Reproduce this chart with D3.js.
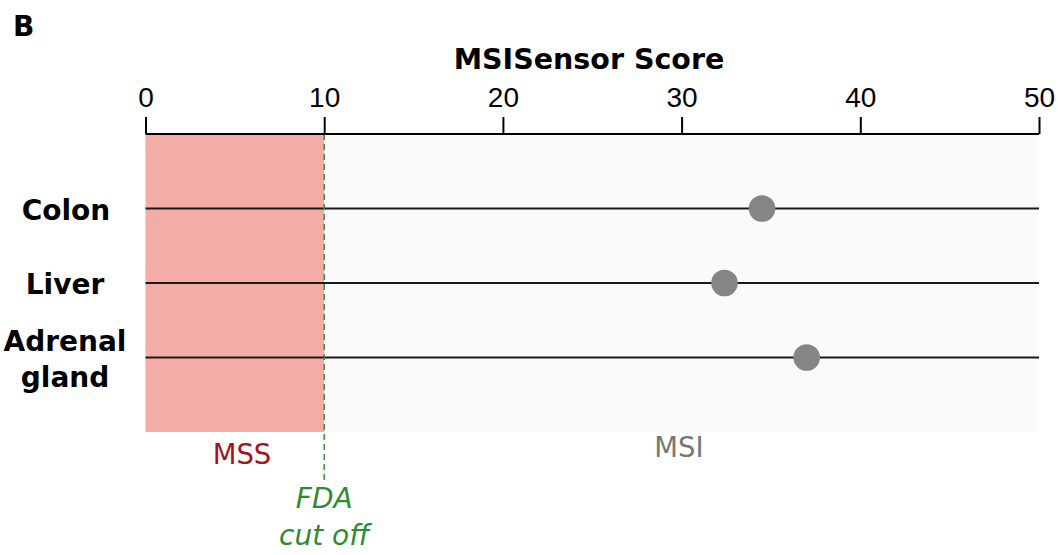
<!DOCTYPE html>
<html><head><meta charset="utf-8">
<script src="https://cdn.jsdelivr.net/npm/d3@7"></script>
<style>body{margin:0;background:#fff}svg{display:block}</style>
</head><body>
<script>
const categories = ["Colon", "Liver", "Adrenal gland"];
const scores = [34.5, 32.4, 37.0];
const tickValues = [0, 10, 20, 30, 40, 50];
const cutoff = 10;
const domainX = [0, 50];

const W = 1058, H = 555;
const svg = d3.select("body").append("svg").attr("width", W).attr("height", H);
const plotTop = 134, plotBottom = 432;
const x = d3.scaleLinear().domain(domainX).range([145.5, 1039]);
const y = d3.scalePoint().domain(categories).range([plotTop, plotBottom]).padding(1);

// background regions
svg.append("rect").attr("x", x(cutoff)).attr("y", plotTop).attr("width", x(domainX[1]) - x(cutoff)).attr("height", plotBottom - plotTop).attr("fill", "#fafafa");
svg.append("rect").attr("x", x(domainX[0])).attr("y", plotTop).attr("width", x(cutoff) - x(domainX[0])).attr("height", plotBottom - plotTop).attr("fill", "#f4aca6");

// row lines
svg.selectAll("line.row").data(categories).join("line")
  .attr("x1", x(domainX[0])).attr("x2", x(domainX[1]))
  .attr("y1", d => y(d)).attr("y2", d => y(d))
  .attr("stroke", "#1a1a1a").attr("stroke-width", 2);

// cutoff dashed line
svg.append("line").attr("x1", x(cutoff)).attr("x2", x(cutoff)).attr("y1", plotTop).attr("y2", 481)
  .attr("stroke", "#3a8f3a").attr("stroke-width", 1.5).attr("stroke-dasharray", "6,4");

// axis
const axis = d3.axisTop(x).tickValues(tickValues).tickSize(17).tickSizeOuter(0).tickPadding(10);
const g = svg.append("g").attr("transform", `translate(0,${plotTop})`).call(axis);
g.select(".domain").attr("stroke", "#000").attr("stroke-width", 2).attr("d", `M${x(domainX[0])},0H${x(domainX[1])}`);
g.selectAll(".tick line").attr("stroke", "#000").attr("stroke-width", 2);
g.selectAll(".tick text").attr("font-family", "Liberation Sans, Arial, sans-serif").attr("font-size", 28).attr("fill", "#000");

// points
svg.selectAll("circle").data(categories).join("circle")
  .attr("cx", (d, i) => x(scores[i])).attr("cy", d => y(d)).attr("r", 13.3)
  .attr("fill", "#858585");

// row labels
const lab = svg.append("g").attr("font-family", "DejaVu Sans, sans-serif").attr("font-weight", "bold").attr("font-size", 28).attr("fill", "#000").attr("text-anchor", "middle");
lab.append("text").attr("x", 66).attr("y", y("Colon") + 11).text("Colon");
lab.append("text").attr("x", 65).attr("y", y("Liver") + 11).text("Liver");
const ad = lab.append("text").attr("x", 65).attr("y", y("Adrenal gland") - 7);
ad.append("tspan").attr("x", 65).text("Adrenal");
ad.append("tspan").attr("x", 65).attr("dy", 36).text("gland");

// title
svg.append("text").attr("x", 589).attr("y", 69).attr("text-anchor", "middle")
  .attr("font-family", "DejaVu Sans, sans-serif").attr("font-weight", "bold").attr("font-size", 28.5).text("MSISensor Score");
svg.append("text").attr("x", 13).attr("y", 36).attr("font-family", "DejaVu Sans, sans-serif").attr("font-weight", "bold").attr("font-size", 28).text("B");

// region labels
svg.append("text").attr("x", 242).attr("y", 464).attr("text-anchor", "middle")
  .attr("font-family", "DejaVu Sans, sans-serif").attr("font-size", 27.5).attr("fill", "#a8101c").text("MSS");
svg.append("text").attr("x", 679).attr("y", 457).attr("text-anchor", "middle")
  .attr("font-family", "DejaVu Sans, sans-serif").attr("font-size", 27.5).attr("fill", "#777").text("MSI");
const fda = svg.append("text").attr("text-anchor", "middle").attr("font-family", "DejaVu Sans, sans-serif").attr("font-style", "italic").attr("font-size", 28).attr("fill", "#2e8b2e");
fda.append("tspan").attr("x", x(cutoff)).attr("y", 508).text("FDA");
fda.append("tspan").attr("x", x(cutoff)).attr("y", 545).text("cut off");
</script>
</body></html>
